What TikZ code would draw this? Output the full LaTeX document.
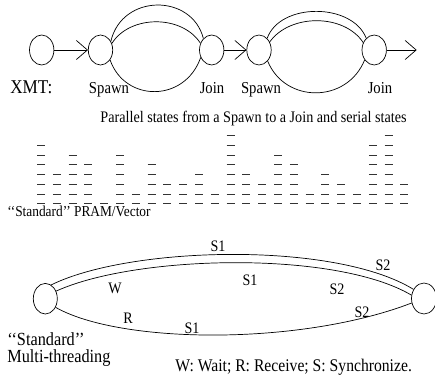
\documentclass[tikz,border=0pt]{standalone}
\usepackage{fontspec}
\setmainfont{Liberation Serif}
\usetikzlibrary{shapes.geometric,arrows.meta}
\newcommand{\hsq}[1]{\scalebox{0.88}[1]{#1}}
\begin{document}
\begin{tikzpicture}[x=1pt,y=-1pt,line width=0.7pt,
  st/.style={draw,ellipse,inner sep=0pt,minimum width=24.4pt,minimum height=30pt},
  arr/.style={-{Straight Barb[length=11pt,width=19pt,line width=0.7pt]}},
  fs/.style={inner sep=0pt,font=\fontsize{#1}{#1}\selectfont},
  lbl/.style={fs=16,anchor=center},
  dsh/.style={line width=1pt,black!80}]
\useasboundingbox (0,0) rectangle (435,377);
% ---------- XMT ----------
\node[st] (a) at (41.7,50) {};
\node[st] (s1) at (100.5,50) {};
\node[st] (j1) at (211.7,50) {};
\node[st] (s2) at (259,50) {};
\node[st] (j2) at (374.2,50) {};
\coordinate (e) at (416.7,50);
\draw[arr] (a) -- (s1);
\draw[arr] (j1) -- (s2);
\draw[arr] (j2) -- (e);
\draw (s1.40) .. controls (122,-6.6) and (192,-6.6) .. (j1.126);
\draw (s1.30) .. controls (130,14.6) and (182,14.6) .. (j1.149);
\draw (s1.-46) .. controls (125,102.6) and (185,102.6) .. (j1.-146);
\draw (s2.55) .. controls (280,2.4) and (352,2.4) .. (j2.124);
\draw (s2.37) .. controls (290,13.5) and (344,13.5) .. (j2.146);
\draw (s2.-52) .. controls (285,103.6) and (347,103.6) .. (j2.-134);
\node[fs=19.5,anchor=base west] (xmt) at (10,93.5) {\hsq{XMT:}};
\node[fs=16.7,anchor=base] (sp1) at (109,93.5) {\hsq{Spawn}};
\node[fs=16.7,anchor=base] (jn1) at (212,93.5) {\hsq{Join}};
\node[fs=16.7,anchor=base] (sp2) at (261,93.5) {\hsq{Spawn}};
\node[fs=16.7,anchor=base] (jn2) at (380,93.5) {\hsq{Join}};
\node[fs=16.1,anchor=base] (par) at (253.5,122) {\hsq{Parallel states from a Spawn to a Join and serial states}};
% ---------- PRAM dashes ----------
\foreach \h [count=\i from 0] in {7,4,6,5,1,6,2,5,3,3,4,2,8,4,3,6,5,2,4,3,2,7,8,3}{
  \foreach \k in {1,...,\h}{
    \draw[dsh] ({41+15.8*\i-4},{203.7-9.7*(\k-1)}) -- ++(8,0);
  }
}
\node[fs=15.2,anchor=base west] (pram) at (7,216) {\hsq{{`}{`}Standard{'}{'} PRAM/Vector}};
% ---------- Multi-threading ----------
\node[st,minimum width=24pt,minimum height=30.6pt] (L) at (45.3,298.7) {};
\node[st,minimum width=25pt,minimum height=31pt] (R) at (424,298.5) {};
\draw (L.67) .. controls (130,246) and (335,241) .. (R.139);
\draw (L.35) .. controls (135,255) and (335,250) .. (R.165);
\draw (L.-40) .. controls (120,344) and (300,346) .. (R.-160);
\node[lbl] (t1) at (218,246) {\hsq{S1}};
\node[lbl] (tw) at (115,288) {\hsq{W}};
\node[lbl] (t2) at (250,280) {\hsq{S1}};
\node[lbl] (t3) at (383,265) {\hsq{S2}};
\node[lbl] (t4) at (337,289) {\hsq{S2}};
\node[lbl] (tr) at (128,318) {\hsq{R}};
\node[lbl] (t5) at (192,328) {\hsq{S1}};
\node[lbl] (t6) at (362,312) {\hsq{S2}};
\node[inner sep=0pt,font=\fontsize{18.5}{17.5}\selectfont,align=left,anchor=base west] (std) at (7,362.5)
  {\hsq{{`}{`}Standard{'}{'}}\\\hsq{Multi-threading}};
\node[fs=17.8,anchor=base west] (leg) at (175,371) {\hsq{W: Wait; R: Receive; S: Synchronize.}};
\end{tikzpicture}
\end{document}
